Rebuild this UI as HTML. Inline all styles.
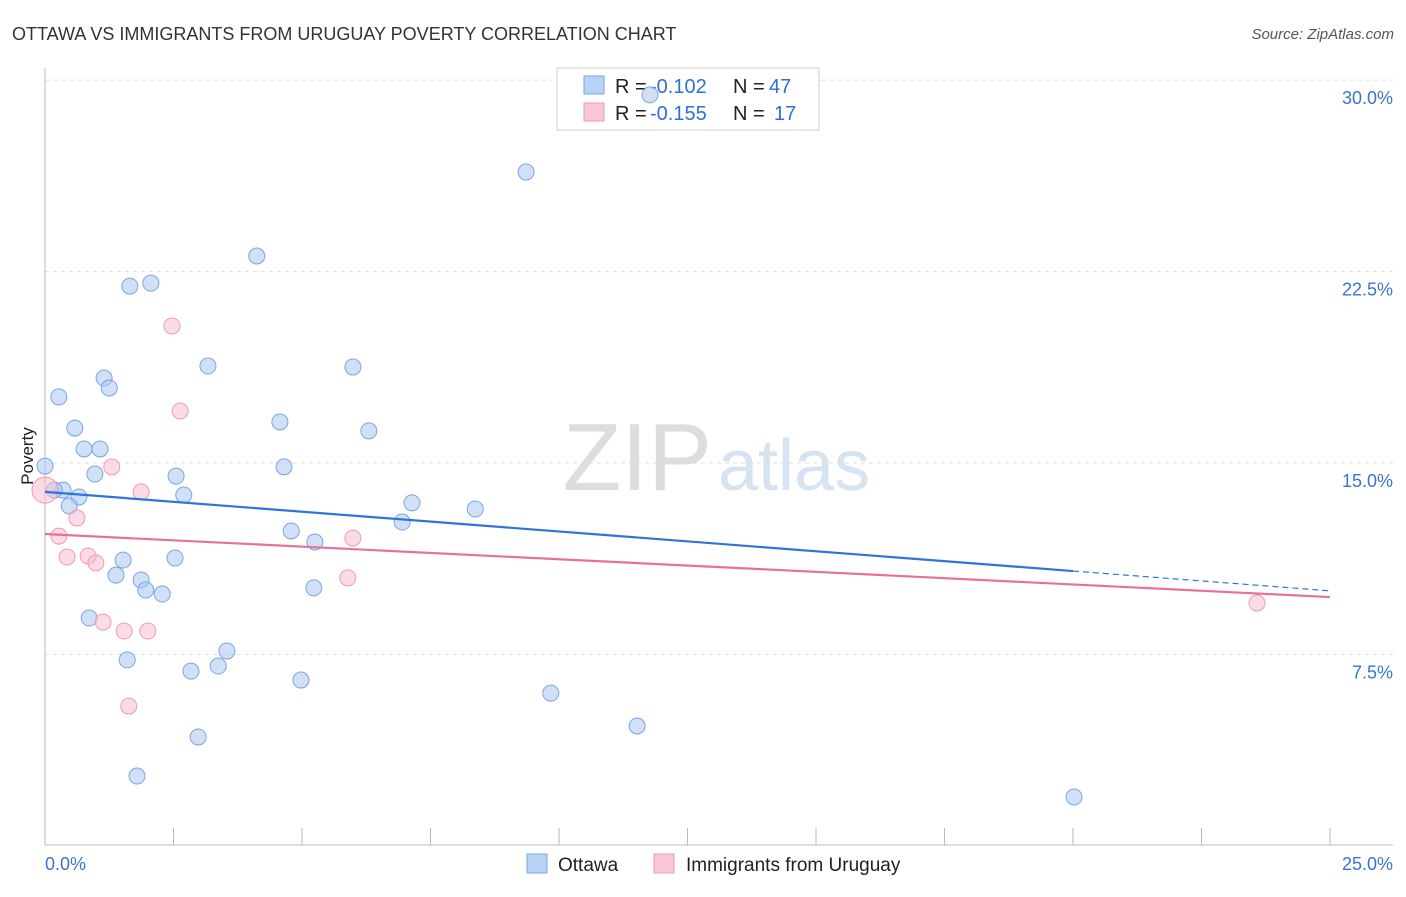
<!DOCTYPE html>
<html><head><meta charset="utf-8"><style>
body{margin:0;background:#fff;font-family:"Liberation Sans",sans-serif;}
svg text{font-family:"Liberation Sans",sans-serif;}
</style></head><body>
<svg id="c" width="1406" height="892">
<text x="12" y="40" font-size="18" fill="#333">OTTAWA VS IMMIGRANTS FROM URUGUAY POVERTY CORRELATION CHART</text>
<text x="1394" y="39" font-size="15" fill="#555" text-anchor="end" font-style="italic">Source: ZipAtlas.com</text>
<text x="712" y="490" font-size="96" fill="#ddd" text-anchor="end" font-family="Liberation Serif">ZIP</text>
<text x="718" y="490" font-size="72" fill="#d6e3f3">atlas</text>
<text x="33" y="456" font-size="17" fill="#222" text-anchor="middle" transform="rotate(-90 33 456)">Poverty</text>
<g id="grid"></g>
<g>
<rect x="557" y="68" width="262" height="62" fill="#fff" stroke="#ccc"/>
<rect x="584" y="76" width="20" height="18" fill="#b8d3f5" stroke="#7aa7e0"/>
<rect x="584" y="103" width="20" height="18" fill="#f9c6d4" stroke="#ef9bb3"/>
<text x="615" y="93" font-size="20" fill="#222">R =</text>
<text x="650" y="93" font-size="20" fill="#2f6fd6">-0.102</text>
<text x="733" y="93" font-size="20" fill="#222">N =</text>
<text x="769" y="93" font-size="20" fill="#2f6fd6">47</text>
<text x="615" y="120" font-size="20" fill="#222">R =</text>
<text x="650" y="120" font-size="20" fill="#2f6fd6">-0.155</text>
<text x="733" y="120" font-size="20" fill="#222">N =</text>
<text x="774" y="120" font-size="20" fill="#2f6fd6">17</text>
</g>
<g id="marks"></g>
<g>
<rect x="527" y="854" width="20" height="19" fill="#b8d3f5" stroke="#7aa7e0"/>
<text x="558" y="871" font-size="19" fill="#222">Ottawa</text>
<rect x="654" y="854" width="20" height="19" fill="#f9c6d4" stroke="#ef9bb3"/>
<text x="686" y="871" font-size="19" fill="#222">Immigrants from Uruguay</text>
</g>
</svg>
<script>
const xTicks=["0.0%","25.0%"];
const yTickVals=[7.5,15,22.5,30];
const yTickLabels=["7.5%","15.0%","22.5%","30.0%"];
const ottawaX=[11.77,9.36,4.12,2.06,1.65,3.17,5.99,1.15,1.25,0.27,4.57,0.58,6.30,0.76,1.07,0,4.65,0.97,2.55,0.35,0.66,2.70,0.47,7.14,8.37,6.95,4.79,5.25,1.52,2.53,1.38,1.87,1.96,2.28,5.23,0.86,3.54,1.60,2.84,3.37,4.98,9.84,11.52,2.98,1.79,20.02,0.18];
const ottawaY=[29.42,26.40,23.11,22.05,21.93,18.80,18.76,18.33,17.94,17.59,16.61,16.37,16.26,15.55,15.55,14.88,14.85,14.57,14.49,13.94,13.67,13.75,13.32,13.44,13.20,12.69,12.34,11.91,11.20,11.28,10.61,10.42,10.03,9.87,10.11,8.93,7.64,7.29,6.85,7.05,6.50,5.99,4.70,4.27,2.74,1.92,13.94];
const uruX=[0,2.47,2.63,1.30,1.87,0.62,0.27,5.99,0.84,0.43,0.99,5.89,1.13,1.54,2.00,1.63,23.58];
const uruY=[13.94,20.37,17.04,14.85,13.87,12.85,12.14,12.06,11.36,11.32,11.09,10.50,8.77,8.42,8.42,5.48,9.52];
const ottawaTrend=[13.87,-0.155];
const uruTrend=[12.22,-0.0988];
const X=v=>45+v*51.4, Y=v=>846-v*25.53;
const NS="http://www.w3.org/2000/svg";
const grid=document.getElementById('grid'),marks=document.getElementById('marks');
function mk(p,tag,a){const e=document.createElementNS(NS,tag);for(const k in a)e.setAttribute(k,a[k]);p.appendChild(e);return e;}
yTickVals.forEach((v,i)=>{
 const l=mk(grid,'line',{x1:45,x2:1393,y1:Y(v),y2:Y(v),stroke:'#ddd','stroke-dasharray':'4 4'});
 
 
 const t=mk(grid,'text',{x:1393,y:Y(v)+24,'font-size':18,fill:'#3a74d0','text-anchor':'end'});t.textContent=yTickLabels[i];
 
 
});
const ax=mk(grid,'line',{x1:45,x2:1393,y1:845,y2:845,stroke:'#bbb'});


const ay=mk(grid,'line',{x1:45,x2:45,y1:68,y2:845,stroke:'#bbb'});


for(let i=1;i<=10;i++){const tk=mk(grid,'line',{x1:X(i*2.5),x2:X(i*2.5),y1:828,y2:845,stroke:'#bbb'});
 
 }
[[0,'start'],[25,'end']].forEach((d,i)=>{const t=mk(grid,'text',{x:i?1393:45,y:870,'font-size':18,fill:'#3a74d0','text-anchor':d[1]});t.textContent=xTicks[i];
 
 });
ottawaX.forEach((x,i)=>{const c=mk(marks,'circle',{cx:X(x),cy:Y(ottawaY[i]),r:8,fill:'rgba(170,200,240,0.55)',stroke:'#7aa7e0','stroke-width':1});
 
 });
uruX.forEach((x,i)=>{const c=mk(marks,'circle',{cx:X(x),cy:Y(uruY[i]),r:i==0?13:8,fill:'rgba(248,190,208,0.55)',stroke:'#ef9bb3','stroke-width':1});
 
 });
const f=(t,x)=>t[0]+t[1]*x;
let l=mk(marks,'line',{x1:X(0),y1:Y(f(ottawaTrend,0)),x2:X(20),y2:Y(f(ottawaTrend,20)),stroke:'#2f74d8','stroke-width':2.2});


l=mk(marks,'line',{x1:X(20),y1:Y(f(ottawaTrend,20)),x2:X(25),y2:Y(f(ottawaTrend,25)),stroke:'#2f74d8','stroke-width':1.2,'stroke-dasharray':'6 4'});


l=mk(marks,'line',{x1:X(0),y1:Y(f(uruTrend,0)),x2:X(25),y2:Y(f(uruTrend,25)),stroke:'#e8709a','stroke-width':2.2});


</script>
</body></html>
